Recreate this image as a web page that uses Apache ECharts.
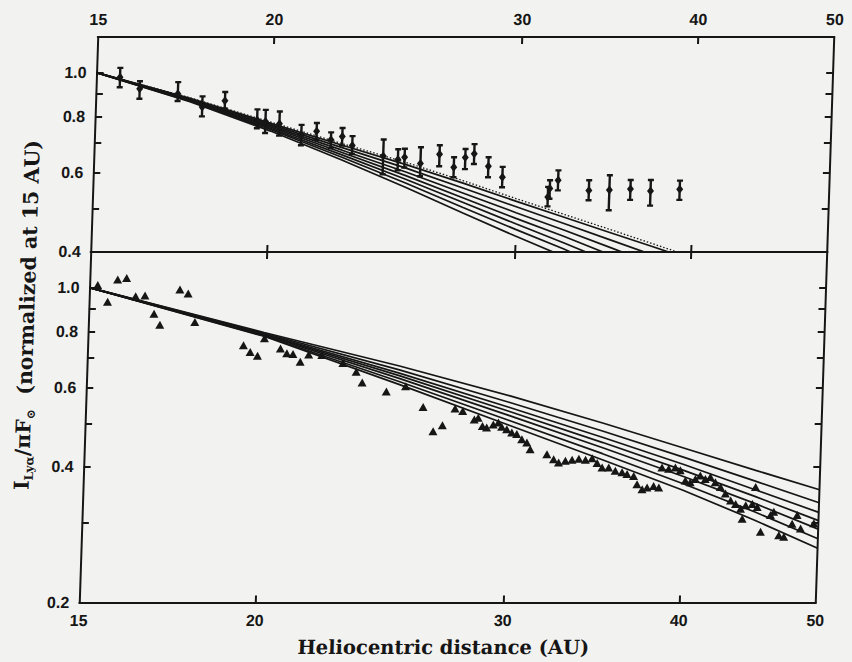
<!DOCTYPE html>
<html>
<head>
<meta charset="utf-8">
<title>Lyman-alpha intensity vs heliocentric distance</title>
<script src="https://cdn.jsdelivr.net/npm/echarts@6/dist/echarts.min.js"></script>
<style>
  html, body { margin: 0; padding: 0; background: #f2f2f0; }
  /* the scanned figure leans a little to the right at the top */
  #graph { width: 852px; height: 662px; transform: skewX(-1.87deg); transform-origin: 0 320px; }
</style>
</head>
<body>
<div id="graph"></div>
<script>
// ---- tick values ----
var distTicks = [20, 30, 40];
var distLabels = [15, 20, 30, 40, 50];
var upTicks = [0.4, 0.5, 0.6, 0.7, 0.8, 0.9, 1.0];
var upLabels = [0.4, 0.6, 0.8, 1.0];
var downTicks = [0.2, 0.3, 0.4, 0.5, 0.6, 0.7, 0.8, 0.9, 1.0];
var downLabels = [0.2, 0.4, 0.6, 0.8, 1.0];

// ---- upper panel: data with error bars ----
var upDist = [15.59, 16.11, 17.15, 17.86, 18.53, 19.55, 19.82, 20.28, 21.03, 21.56, 22.08, 22.49, 22.87, 24.07, 24.66, 24.93, 25.59, 26.39, 27.03, 27.53, 27.93, 28.6, 29.28, 31.57, 31.66, 32.08, 33.75, 34.9, 36.12, 37.33, 39.15];
var upVal = [0.977, 0.921, 0.898, 0.839, 0.866, 0.785, 0.779, 0.770, 0.728, 0.741, 0.710, 0.722, 0.689, 0.653, 0.642, 0.649, 0.629, 0.659, 0.617, 0.648, 0.661, 0.620, 0.586, 0.530, 0.553, 0.577, 0.548, 0.549, 0.552, 0.546, 0.551];
var upLow = [0.928, 0.875, 0.865, 0.800, 0.833, 0.753, 0.735, 0.725, 0.690, 0.710, 0.680, 0.689, 0.660, 0.595, 0.607, 0.616, 0.589, 0.620, 0.586, 0.611, 0.627, 0.586, 0.557, 0.505, 0.525, 0.548, 0.521, 0.495, 0.522, 0.507, 0.522];
var upHigh = [1.025, 0.957, 0.953, 0.886, 0.906, 0.829, 0.827, 0.820, 0.766, 0.773, 0.737, 0.754, 0.723, 0.711, 0.676, 0.678, 0.683, 0.690, 0.649, 0.677, 0.694, 0.649, 0.618, 0.558, 0.577, 0.607, 0.577, 0.592, 0.578, 0.578, 0.576];

// upper panel model curves
var upModelDist = [15, 17.5, 20, 22.5, 25, 27.5, 30, 32.5, 35, 37.5, 40, 42.5];
var upModel1 = [1.000, 0.862, 0.742, 0.640, 0.557, 0.488, 0.434, 0.391, 0.352];
var upModel2 = [1.000, 0.865, 0.748, 0.649, 0.569, 0.502, 0.449, 0.406, 0.367];
var upModel3 = [1.000, 0.867, 0.752, 0.657, 0.580, 0.515, 0.462, 0.419, 0.381];
var upModel4 = [1.000, 0.870, 0.757, 0.665, 0.591, 0.527, 0.475, 0.433, 0.395, 0.363];
var upModel5 = [1.000, 0.872, 0.762, 0.673, 0.602, 0.540, 0.489, 0.447, 0.410, 0.378, 0.350];
var upModel6 = [1.000, 0.875, 0.767, 0.682, 0.614, 0.554, 0.504, 0.462, 0.426, 0.395, 0.367];
var upModel7 = [1.000, 0.877, 0.772, 0.690, 0.625, 0.568, 0.518, 0.477, 0.442, 0.412, 0.385, 0.362];
var upModelDotted = [1.000, 0.880, 0.777, 0.696, 0.632, 0.575, 0.525, 0.484, 0.449, 0.418, 0.391, 0.367];

// ---- lower panel: triangles ----
var downDist = [15.20, 15.46, 15.70, 15.93, 16.18, 16.43, 16.69, 16.86, 17.39, 17.63, 17.85,
  19.35, 19.57, 19.81, 20.02, 20.56, 20.78, 20.99, 21.25, 21.54, 22.01, 22.79, 23.30, 23.54,
  24.50, 25.28, 26.04, 26.50, 26.90, 27.44, 27.79, 28.33, 28.51, 28.72, 28.92, 29.23, 29.47, 29.64, 29.89, 30.14,
  30.39, 30.65, 30.91, 31.09, 31.96, 32.32, 32.59, 32.95, 33.31, 33.68, 34.05, 34.42, 34.71, 35.00, 35.38, 35.77,
  36.17, 36.47, 36.87, 37.09, 37.41, 37.71, 38.11, 38.44, 38.60, 39.03, 39.45, 39.78, 40.13, 40.46,
  40.79, 41.11, 41.46, 41.80, 42.15, 42.52, 42.88, 43.26, 43.62, 43.99, 44.13, 44.35, 44.83, 45.20, 45.03,
  45.50, 46.21, 46.45, 46.89, 47.28, 47.89, 48.27, 48.57, 49.62];
var downVal = [1.014, 0.931, 1.042, 1.051, 0.957, 0.961, 0.875, 0.827, 0.991, 0.970, 0.839,
  0.745, 0.720, 0.706, 0.772, 0.733, 0.715, 0.712, 0.685, 0.711, 0.709, 0.680, 0.651, 0.616,
  0.588, 0.604, 0.543, 0.480, 0.495, 0.539, 0.532, 0.510, 0.514, 0.493, 0.489, 0.497, 0.502, 0.491, 0.485, 0.477,
  0.473, 0.461, 0.453, 0.438, 0.427, 0.416, 0.409, 0.413, 0.415, 0.417, 0.415, 0.418, 0.408, 0.399, 0.399, 0.392,
  0.389, 0.386, 0.382, 0.366, 0.357, 0.360, 0.363, 0.360, 0.399, 0.396, 0.399, 0.393, 0.373, 0.370,
  0.376, 0.383, 0.376, 0.380, 0.370, 0.361, 0.349, 0.337, 0.331, 0.323, 0.307, 0.329, 0.331, 0.326, 0.361,
  0.287, 0.313, 0.318, 0.282, 0.280, 0.299, 0.313, 0.292, 0.300];

// lower panel model curves
var downModelDist = [15, 20, 25, 30, 35, 40, 45, 50];
var downModel1 = [1.0, 0.780, 0.610, 0.495, 0.415, 0.355, 0.305, 0.264];
var downModel2 = [1.0, 0.782, 0.619, 0.507, 0.428, 0.367, 0.318, 0.277];
var downModel3 = [1.0, 0.785, 0.629, 0.520, 0.441, 0.381, 0.332, 0.291];
var downModel4 = [1.0, 0.787, 0.638, 0.531, 0.453, 0.393, 0.344, 0.304];
var downModel5 = [1.0, 0.789, 0.646, 0.542, 0.465, 0.405, 0.356, 0.317];
var downModel6 = [1.0, 0.792, 0.657, 0.556, 0.480, 0.420, 0.372, 0.333];
var downModel7 = [1.0, 0.795, 0.670, 0.575, 0.500, 0.440, 0.393, 0.356];

var ink = '#161616';
var labelFont = 'Liberation Sans';
var titleFont = 'DejaVu Serif';

function pairs(xs, ys) {
  var out = [];
  for (var i = 0; i < ys.length; i++) out.push([xs[i], ys[i]]);
  return out;
}

function distAxis(gridIndex, position, withLabels) {
  return {
    type: 'log', logBase: 10, gridIndex: gridIndex, position: position,
    min: 15, max: 50,
    axisLine: { show: true, onZero: false, lineStyle: { color: ink, width: 2 } },
    axisTick: { show: true, inside: true, length: 7, customValues: distTicks, lineStyle: { color: ink, width: 2 } },
    axisLabel: {
      show: withLabels, customValues: distLabels, margin: 10,
      color: ink, fontFamily: labelFont, fontWeight: 'bold', fontSize: 16,
      formatter: function (v) { return String(Math.round(v)); }
    },
    splitLine: { show: false }
  };
}

function valueAxis(gridIndex, position, min, ticks, labels) {
  return {
    type: 'log', logBase: 10, gridIndex: gridIndex, position: position,
    min: min, max: 1.2,
    axisLine: { show: true, onZero: false, lineStyle: { color: ink, width: 2 } },
    axisTick: { show: true, inside: true, length: 7, customValues: ticks, lineStyle: { color: ink, width: 2 } },
    axisLabel: {
      show: labels != null, customValues: labels || [], margin: 10,
      color: ink, fontFamily: labelFont, fontWeight: 'bold', fontSize: 16,
      formatter: function (v) { return v.toFixed(1); }
    },
    splitLine: { show: false }
  };
}

function modelLine(xAxisIndex, yAxisIndex, xs, ys, dotted) {
  return {
    type: 'line', xAxisIndex: xAxisIndex, yAxisIndex: yAxisIndex,
    data: pairs(xs, ys), symbol: 'none', silent: true, clip: true,
    lineStyle: { color: ink, width: dotted ? 1.3 : 1.7, type: dotted ? [1.5, 2] : 'solid' },
    z: 2
  };
}

function renderErrorBar(params, api) {
  var x = api.value(0);
  var c = api.coord([x, api.value(1)]);
  var lo = api.coord([x, api.value(2)]);
  var hi = api.coord([x, api.value(3)]);
  var s = { stroke: ink, lineWidth: 2.4 };
  return {
    type: 'group',
    children: [
      { type: 'line', shape: { x1: c[0], y1: lo[1], x2: c[0], y2: hi[1] }, style: s },
      { type: 'line', shape: { x1: c[0] - 3, y1: hi[1], x2: c[0] + 3, y2: hi[1] }, style: s },
      { type: 'line', shape: { x1: c[0] - 3, y1: lo[1], x2: c[0] + 3, y2: lo[1] }, style: s },
      { type: 'polygon', shape: { points: [[c[0], c[1] - 4.5], [c[0] + 3.5, c[1]], [c[0], c[1] + 4.5], [c[0] - 3.5, c[1]]] }, style: { fill: ink } }
    ]
  };
}

var barData = [];
for (var i = 0; i < upDist.length; i++) barData.push([upDist[i], upVal[i], upLow[i], upHigh[i]]);

var chart = echarts.init(document.getElementById('graph'), null, { renderer: 'svg' });

var option = {
  animation: false,
  backgroundColor: 'transparent',
  grid: [
    { left: 88.5, width: 736.6, top: 37, height: 215, outerBoundsMode: 'none' },
    { left: 88.5, width: 736.6, top: 252, height: 350.5, outerBoundsMode: 'none' }
  ],
  xAxis: [
    distAxis(0, 'top', true),
    distAxis(0, 'bottom', false),
    distAxis(1, 'top', false),
    distAxis(1, 'bottom', true)
  ],
  yAxis: [
    valueAxis(0, 'left', 0.4, upTicks, upLabels),
    valueAxis(0, 'right', 0.4, upTicks, null),
    valueAxis(1, 'left', 0.2, downTicks, downLabels),
    valueAxis(1, 'right', 0.2, downTicks, null)
  ],
  graphic: [
    {
      type: 'text', x: 454, y: 648,
      style: {
        text: 'Heliocentric distance (AU)', fill: ink,
        font: 'bold 19.5px "' + titleFont + '"', align: 'center', verticalAlign: 'middle'
      }
    },
    {
      type: 'text', x: 27, y: 315, rotation: Math.PI / 2,
      style: {
        text: '{m|I}{s|Lyα}{m|/πF}{s|⊙}{m|  (normalized at 15 AU)}',
        fill: ink, align: 'center', verticalAlign: 'middle',
        rich: {
          m: { font: 'bold 20.5px "' + titleFont + '"', fill: ink, lineHeight: 26, verticalAlign: 'middle' },
          s: { font: 'bold 12px "' + titleFont + '"', fill: ink, lineHeight: 26, verticalAlign: 'bottom' }
        }
      }
    }
  ],
  series: [
    modelLine(0, 0, upModelDist, upModel1),
    modelLine(0, 0, upModelDist, upModel2),
    modelLine(0, 0, upModelDist, upModel3),
    modelLine(0, 0, upModelDist, upModel4),
    modelLine(0, 0, upModelDist, upModel5),
    modelLine(0, 0, upModelDist, upModel6),
    modelLine(0, 0, upModelDist, upModel7),
    modelLine(0, 0, upModelDist, upModelDotted, true),
    {
      type: 'custom', xAxisIndex: 0, yAxisIndex: 0,
      renderItem: renderErrorBar, data: barData,
      encode: { x: 0, y: [1, 2, 3] }, silent: true, z: 3
    },
    modelLine(3, 2, downModelDist, downModel1),
    modelLine(3, 2, downModelDist, downModel2),
    modelLine(3, 2, downModelDist, downModel3),
    modelLine(3, 2, downModelDist, downModel4),
    modelLine(3, 2, downModelDist, downModel5),
    modelLine(3, 2, downModelDist, downModel6),
    modelLine(3, 2, downModelDist, downModel7),
    {
      type: 'scatter', xAxisIndex: 3, yAxisIndex: 2,
      data: pairs(downDist, downVal), symbol: 'triangle', symbolSize: [9, 8],
      itemStyle: { color: ink, opacity: 1 }, silent: true, z: 3
    }
  ]
};

chart.setOption(option);
</script>
</body>
</html>
